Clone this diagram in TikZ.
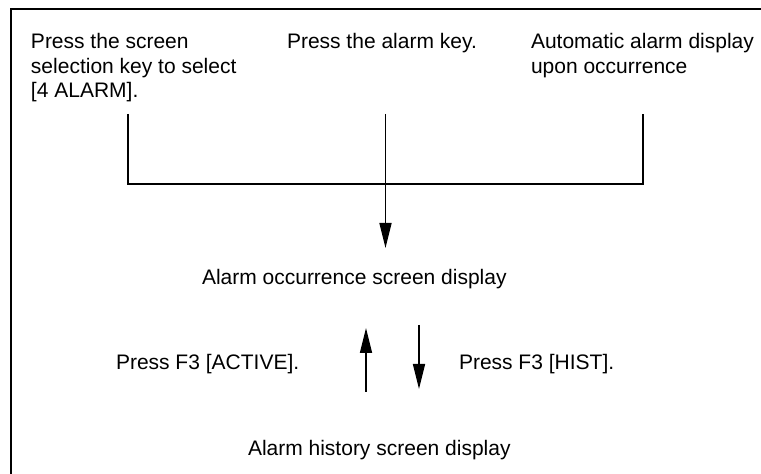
\documentclass[tikz,border=0pt]{standalone}
\usepackage{fontspec}
\setmainfont{Liberation Sans}
\usetikzlibrary{arrows.meta}
\begin{document}
\begin{tikzpicture}[x=0.5pt,y=-0.5pt,
  lbl/.style={inner sep=0pt,outer sep=0pt,anchor=base west,align=left,
    font=\fontsize{10.5}{12.25}\selectfont},
  wire/.style={line width=0.75pt},
  arr/.style={line width=0.75pt,-{Triangle[length=12.5pt,width=6pt]}},
  frame/.style={line width=0.8pt}]
\useasboundingbox (0,0) rectangle (761,474);
\draw[frame] (11,480) -- (11,9) -- (770,9);
\node[lbl] (sel) at (31,98) {Press the screen\\selection key to select\\{[4 ALARM].}};
\node[lbl] (key) at (287,49) {Press the alarm key.};
\node[lbl] (auto) at (531,73.5) {Automatic alarm display\\upon occurrence};
\node[lbl] (occ) at (202,285) {Alarm occurrence screen display};
\node[lbl] (act) at (116,370) {Press F3 [ACTIVE].};
\node[lbl] (hst) at (459,370) {Press F3 [HIST].};
\node[lbl] (his) at (248,456) {Alarm history screen display};
\coordinate (s1) at (128,114);
\coordinate (s2) at (385.5,114);
\coordinate (s3) at (643,114);
\coordinate (j1) at (128,184);
\coordinate (j3) at (643,184);
\coordinate (t2) at (385.5,248);
\coordinate (u0) at (366,392);
\coordinate (u1) at (366,328);
\coordinate (d0) at (419,325);
\coordinate (d1) at (419,389);
\draw[wire] (s1) -- (j1) -- (j3) -- (s3);
\draw[arr] (s2) -- (t2);
\draw[arr] (u0) -- (u1);
\draw[arr] (d0) -- (d1);
\end{tikzpicture}
\end{document}
